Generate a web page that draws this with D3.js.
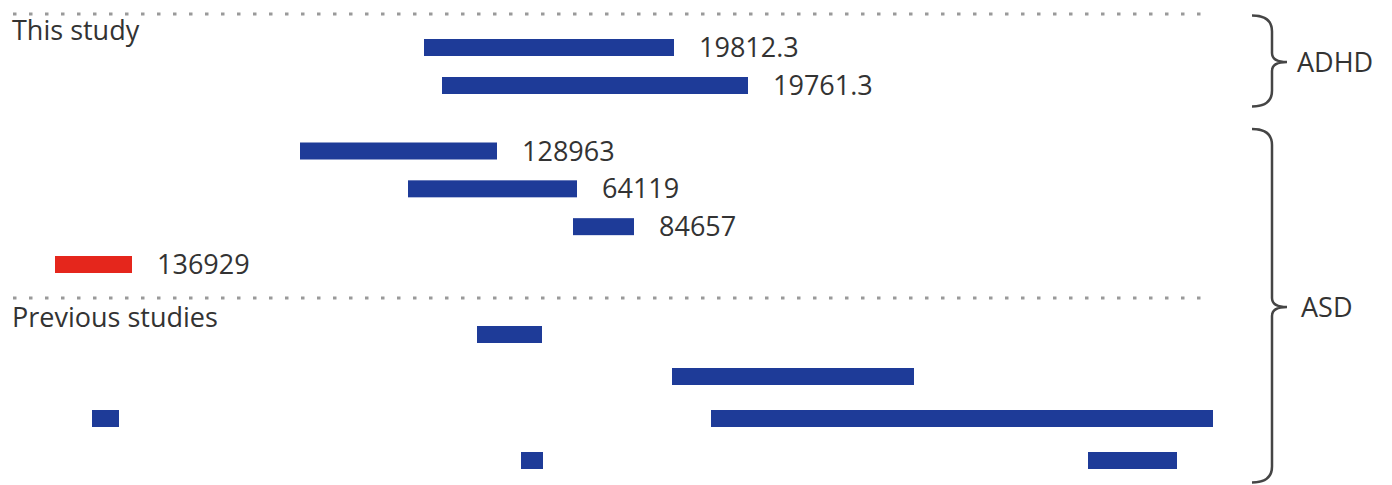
<!DOCTYPE html>
<html>
<head>
<meta charset="utf-8">
<script src="https://cdn.jsdelivr.net/npm/d3@7"></script>
<style>
  body { margin: 0; background: #fff; }
  svg { display: block; font-family: "Open Sans", sans-serif; }
</style>
</head>
<body>
<svg></svg>
<script>
var width = 1392;
var height = 485;

// this study: CNV extents (relative position units) and labels
var thisLabels = ["19812.3", "19761.3", "128963", "64119", "84657", "136929"];
var thisGroup = ["ADHD", "ADHD", "ASD", "ASD", "ASD", "ASD"];
var thisStart = [414, 432, 290, 398, 563, 45];
var thisEnd = [664, 738, 487, 567, 624, 122];
var highlighted = ["136929"];

// previous studies: row index and segment extents
var prevRow = [0, 1, 2, 2, 3, 3];
var prevStart = [467, 662, 82, 701, 511, 1078];
var prevEnd = [532, 904, 109, 1203, 533, 1167];

var sectionLabels = ["This study", "Previous studies"];
var groupLabels = ["ADHD", "ASD"];

var svg = d3.select("svg");
svg.attr('width', width).attr('height', height);

var xScale = d3.scaleLinear()
               .domain([0, 1200])
               .range([10, 1210]);

var barH = 17;
var fontSize = 27;
var textColor = '#333';

// rows of this study, split in the ADHD and ASD blocks
var adhdIdx = d3.range(thisLabels.length).filter(function(i) { return thisGroup[i] === "ADHD"; });
var asdIdx = d3.range(thisLabels.length).filter(function(i) { return thisGroup[i] === "ASD"; });

var yAdhd = d3.scalePoint().domain(adhdIdx).range([47.5, 85.5]);
var yAsd = d3.scalePoint().domain(asdIdx).range([151, 264.5]);
var yPrev = d3.scalePoint().domain(d3.range(d3.max(prevRow) + 1)).range([334.5, 460.5]);

function yThis(i) {
  return thisGroup[i] === "ADHD" ? yAdhd(i) : yAsd(i);
}

// dotted separators
var sepY = [14, 298];
svg.selectAll('line.sep')
  .data(sepY)
  .enter()
  .append('line')
  .attr('class', 'sep')
  .attr('x1', 13)
  .attr('x2', xScale(1200))
  .attr('y1', function(d) { return d; })
  .attr('y2', function(d) { return d; })
  .attr('stroke', '#9a9a9a')
  .attr('stroke-width', 3)
  .attr('stroke-dasharray', '3.5,12.5');

svg.selectAll('text.section')
  .data(sectionLabels)
  .enter()
  .append('text')
  .attr('class', 'section')
  .attr('x', 12)
  .attr('y', function(d, i) { return [40, 327][i]; })
  .attr('font-size', fontSize)
  .attr('fill', textColor)
  .text(function(d) { return d; });

// bars of this study
var idx = d3.range(thisLabels.length);
svg.selectAll('rect.this')
  .data(idx)
  .enter()
  .append('rect')
  .attr('class', 'this')
  .attr('x', function(i) { return xScale(thisStart[i]); })
  .attr('y', function(i) { return yThis(i) - barH / 2; })
  .attr('width', function(i) { return xScale(thisEnd[i]) - xScale(thisStart[i]); })
  .attr('height', barH)
  .attr('fill', function(i) {
    return highlighted.indexOf(thisLabels[i]) >= 0 ? '#e5261c' : '#1e3b98';
  });

svg.selectAll('text.val')
  .data(idx)
  .enter()
  .append('text')
  .attr('class', 'val')
  .attr('x', function(i) { return xScale(thisEnd[i]) + 25; })
  .attr('y', function(i) { return yThis(i) + 9.5; })
  .attr('font-size', fontSize)
  .attr('fill', textColor)
  .text(function(i) { return thisLabels[i]; });

// bars of previous studies
svg.selectAll('rect.prev')
  .data(d3.range(prevRow.length))
  .enter()
  .append('rect')
  .attr('class', 'prev')
  .attr('x', function(i) { return xScale(prevStart[i]); })
  .attr('y', function(i) { return yPrev(prevRow[i]) - barH / 2; })
  .attr('width', function(i) { return xScale(prevEnd[i]) - xScale(prevStart[i]); })
  .attr('height', barH)
  .attr('fill', '#1e3b98');

// curly braces
function brace(x0, y0, y1, ym) {
  var xv = x0 + 20, xt = x0 + 35, r = 16, r2 = 9;
  var p = d3.path();
  p.moveTo(x0, y0);
  p.quadraticCurveTo(xv, y0, xv, y0 + r);
  p.lineTo(xv, ym - r2);
  p.quadraticCurveTo(xv, ym, xt, ym);
  p.quadraticCurveTo(xv, ym, xv, ym + r2);
  p.lineTo(xv, y1 - r);
  p.quadraticCurveTo(xv, y1, x0, y1);
  return p.toString();
}

var braces = [
  { y0: yAdhd(adhdIdx[0]) - 32, y1: yAdhd(adhdIdx[adhdIdx.length - 1]) + 21, ym: 62 },
  { y0: yAsd(asdIdx[0]) - 22, y1: yPrev(d3.max(prevRow)) + 22, ym: 307 }
];

svg.selectAll('path.brace')
  .data(braces)
  .enter()
  .append('path')
  .attr('class', 'brace')
  .attr('d', function(d) { return brace(1252, d.y0, d.y1, d.ym); })
  .attr('fill', 'none')
  .attr('stroke', '#454545')
  .attr('stroke-width', 2.5);

svg.selectAll('text.group')
  .data(groupLabels)
  .enter()
  .append('text')
  .attr('class', 'group')
  .attr('x', function(d, i) { return [1297, 1301][i]; })
  .attr('y', function(d, i) { return braces[i].ym + 9.5; })
  .attr('font-size', fontSize)
  .attr('fill', textColor)
  .text(function(d) { return d; });
</script>
</body>
</html>
